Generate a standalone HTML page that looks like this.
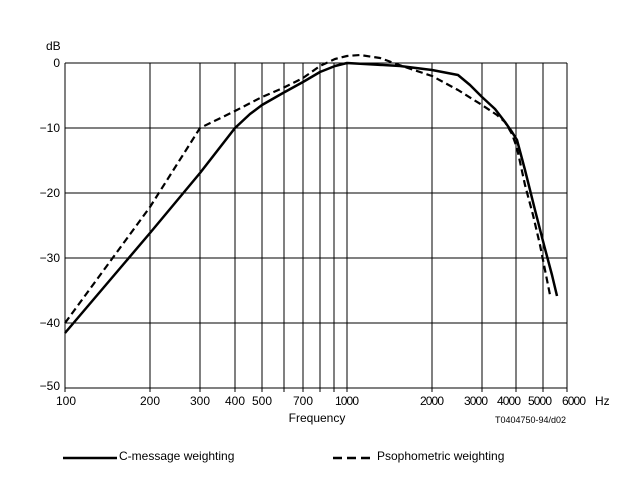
<!DOCTYPE html>
<html><head><meta charset="utf-8"><style>
html,body{margin:0;padding:0;background:#fff;}
svg{display:block;font-family:"Liberation Sans",Arial,sans-serif;}
</style></head><body>
<svg width="625" height="478" viewBox="0 0 625 478" xmlns="http://www.w3.org/2000/svg">
<g stroke="#000" stroke-width="1" fill="none">
<line x1="65" y1="63" x2="567" y2="63"/>
<line x1="65" y1="128" x2="567" y2="128"/>
<line x1="65" y1="193" x2="567" y2="193"/>
<line x1="65" y1="258" x2="567" y2="258"/>
<line x1="65" y1="323" x2="567" y2="323"/>
<line x1="65" y1="388" x2="567" y2="388"/>
<line x1="65" y1="63" x2="65" y2="392"/>
<line x1="150" y1="63" x2="150" y2="392"/>
<line x1="200" y1="63" x2="200" y2="392"/>
<line x1="235" y1="63" x2="235" y2="392"/>
<line x1="262" y1="63" x2="262" y2="392"/>
<line x1="284" y1="63" x2="284" y2="392"/>
<line x1="303" y1="63" x2="303" y2="392"/>
<line x1="320" y1="63" x2="320" y2="392"/>
<line x1="334" y1="63" x2="334" y2="392"/>
<line x1="347" y1="63" x2="347" y2="392"/>
<line x1="432" y1="63" x2="432" y2="392"/>
<line x1="482" y1="63" x2="482" y2="392"/>
<line x1="516" y1="63" x2="516" y2="392"/>
<line x1="543" y1="63" x2="543" y2="392"/>
<line x1="567" y1="63" x2="567" y2="392"/>
</g>
<polyline fill="none" stroke="#000" stroke-width="2.5" stroke-linejoin="round" points="65,333 150,233 200,173 235,128 250,114 262,105 283,93 303,82 320,72 335,66 347,63 400,66 432,70 458,75 470,85 482,97 495,109 505,122 512,132 517,140 525,170 535,210 544,245 552,275 557,296"/>
<polyline fill="none" stroke="#000" stroke-width="2.2" stroke-dasharray="7,4" stroke-linejoin="round" points="65,323 150,207 200,128 235,111 262,97 283,88 303,78 320,66 335,59 347,56 360,55 380,58 405,67 432,76 458,90 482,105 497,115 505,122 512,134 517,148 525,185 533,215 540,245 546,275 550,295"/>
<g font-size="12" fill="#000">
<text x="46" y="50">dB</text>
<text x="60" y="67" text-anchor="end">0</text>
<text x="60" y="132" text-anchor="end">−10</text>
<text x="60" y="197" text-anchor="end">−20</text>
<text x="60" y="262" text-anchor="end">−30</text>
<text x="60" y="327" text-anchor="end">−40</text>
<text x="60" y="390" text-anchor="end">−50</text>
<g text-anchor="middle">
<text x="66" y="405">100</text>
<text x="150" y="405">200</text>
<text x="200" y="405">300</text>
<text x="235" y="405">400</text>
<text x="262" y="405">500</text>
<text x="303" y="405">700</text>
<text x="347" y="405" textLength="24">1000</text>
<text x="432" y="405" textLength="24">2000</text>
<text x="476" y="405" textLength="24">3000</text>
<text x="509" y="405" textLength="24">4000</text>
<text x="540" y="405" textLength="24">5000</text>
<text x="574" y="405" textLength="24">6000</text>
</g>
<text x="595" y="405">Hz</text>
<text x="317" y="422" text-anchor="middle">Frequency</text>
<text x="495" y="423" font-size="9">T0404750-94/d02</text>
<text x="119" y="460">C-message weighting</text>
<text x="377" y="460">Psophometric weighting</text>
</g>
<line x1="63" y1="458" x2="117" y2="458" stroke="#000" stroke-width="2.5"/>
<line x1="333" y1="458" x2="375" y2="458" stroke="#000" stroke-width="2.5" stroke-dasharray="9,5"/>
</svg>
</body></html>
